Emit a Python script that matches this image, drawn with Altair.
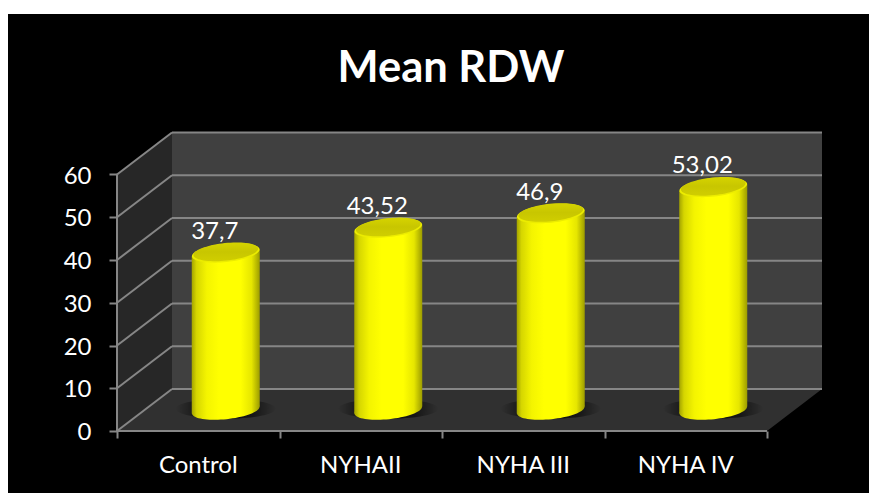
import math
import altair as alt
import pandas as pd

categories = ["Control", "NYHAII", "NYHA III", "NYHA IV"]
values = [37.7, 43.52, 46.9, 53.02]
value_labels = ["37,7", "43,52", "46,9", "53,02"]
levels = [0, 10, 20, 30, 40, 50, 60]
slots = [0, 1, 2, 3, 4]

W, H = 861, 479
PX_X, PX_Y = 162.5, 256.5 / 60      # pixels per x slot, per y unit
X0, Y0 = 109, 417                    # view position of the axes' origin
DX, DY = 55 / PX_X, 42 / PX_Y        # depth of the box
HALF = 34 / PX_X                     # cylinder half width
TILT = 3.5 / PX_Y                    # rim slope
BASE = 21 / PX_Y                     # cylinder foot above the front edge
TOP_SHIFT = 17 / PX_Y                # cylinder top above the value
LIFT = DX / 2
GRID = "#868686"

axis_font = dict(labelFont="Lato", labelFontSize=24, labelColor="white", tickColor=GRID,
                 tickWidth=2, domain=False, grid=False, title=None)
xaxis = alt.Axis(values=slots, orient="bottom", labels=False, tickSize=7, offset=Y0 - H, **axis_font)
yaxis = alt.Axis(values=levels, orient="left", tickSize=8, labelPadding=18, labelOffset=1.5, offset=-X0, **axis_font)

xs = alt.Scale(domain=[-X0 / PX_X, (W - X0) / PX_X], range=[0, W], nice=False, zero=False)
ys = alt.Scale(domain=[(Y0 - H) / PX_Y, Y0 / PX_Y], range=[H, 0], nice=False, zero=False)
X = lambda f: alt.X(f, type="quantitative", scale=xs, axis=xaxis)
Y = lambda f: alt.Y(f, type="quantitative", scale=ys, axis=yaxis)
X2 = lambda f: alt.X2(f)
Y2 = lambda f: alt.Y2(f)

def ellipse(k=0.27, deg=6, n=72):
    a = math.radians(deg)
    pts = []
    for i in range(n):
        t = 2 * math.pi * i / n
        x, y = math.cos(t), k * math.sin(t)
        pts.append((x * math.cos(a) + y * math.sin(a), -x * math.sin(a) + y * math.cos(a)))
    return "M" + "L".join(f"{p:.4f},{q:.4f}" for p, q in pts) + "Z"

def stops(*pairs):
    return [alt.GradientStop(offset=o, color=c) for o, c in pairs]

side_grad = alt.LinearGradient(gradient="linear", x1=0, x2=1, y1=0, y2=0, stops=stops(
    (0, "#a4a400"), (0.07, "#d6d600"), (0.22, "#f4f400"), (0.4, "#ffff00"),
    (0.72, "#ffff00"), (0.88, "#e6e600"), (1, "#9c9c00")))
top_grad = alt.LinearGradient(gradient="linear", x1=0, x2=0, y1=0, y2=1, stops=stops(
    (0, "#d6d400"), (0.5, "#c8c600"), (1, "#d0ce00")))
shadow_grad = alt.RadialGradient(gradient="radial", x1=0.5, y1=0.5, x2=0.5, y2=0.5, r1=0, r2=0.5, stops=stops(
    (0, "#0e0e0e"), (0.55, "#161616"), (1, "#303030")))

# walls
side = pd.DataFrame({"x": [0, DX], "y": [0, DY], "y2": [60, 60 + DY]})
floor = pd.DataFrame({"x": [0, DX, 4, 4 + DX], "y": [0, DY, DY, DY], "y2": [0, 0, 0, DY]})
back = pd.DataFrame({"x": [DX, 4 + DX], "y": [DY, DY], "y2": [60 + DY, 60 + DY]})

def wall(df, color):
    return alt.Chart(df).mark_area(color=color, opacity=1, line=False).encode(
        x=X("x"), y=Y("y"), y2=Y2("y2"))

# grid lines
grid = pd.DataFrame({"v": levels})
grid["a"] = 0.0
grid["b"] = DX
grid["c"] = 4 + DX
grid["w"] = grid["v"] + DY
back_rules = alt.Chart(grid).mark_rule(color=GRID, strokeWidth=2).encode(
    x=X("b"), x2=X2("c"), y=Y("w"))
side_rules = alt.Chart(grid).mark_rule(color=GRID, strokeWidth=2).encode(
    x=X("a"), x2=X2("b"), y=Y("v"), y2=Y2("w"))
front_rule = alt.Chart(pd.DataFrame({"x": [0], "x2": [4], "y": [0]})).mark_rule(
    color=GRID, strokeWidth=2).encode(x=X("x"), x2=X2("x2"), y=Y("y"))
left_rule = alt.Chart(pd.DataFrame({"x": [0], "y": [0], "y2": [60]})).mark_rule(
    color=GRID, strokeWidth=2).encode(x=X("x"), y=Y("y"), y2=Y2("y2"))

# cylinders
cyl = pd.DataFrame({"cat": categories, "v": values, "lab": value_labels})
cyl["c"] = [i + 0.5 + LIFT for i in range(len(categories))]
cyl["top"] = cyl["v"] + TOP_SHIFT
cyl["base"] = BASE
cyl["tx"] = [i + 0.5 + LIFT - 11 / PX_X for i in range(len(categories))]
cyl["shadow_y"] = BASE + 0.3

rows = []
for _, r in cyl.iterrows():
    rows.append({"cat": r["cat"], "x": r["c"] - HALF, "y": r["top"] - TILT, "y2": r["base"] - TILT})
    rows.append({"cat": r["cat"], "x": r["c"] + HALF, "y": r["top"] + TILT, "y2": r["base"] + TILT})
body_df = pd.DataFrame(rows)

shadow = alt.Chart(cyl).mark_point(filled=True, shape=ellipse(0.2, 0), size=100 ** 2, fill=shadow_grad,
                                   opacity=1, strokeWidth=0).encode(x=X("c"), y=Y("shadow_y"))
body = alt.Chart(body_df).mark_area(fill=side_grad, opacity=1, line=False).encode(
    x=X("x"), y=Y("y"), y2=Y2("y2"), detail="cat:N")
foot = alt.Chart(cyl).mark_point(filled=True, shape=ellipse(), size=68 ** 2, fill=side_grad,
                                 opacity=1, strokeWidth=0).encode(x=X("c"), y=Y("base"))
rim = alt.Chart(cyl).mark_point(filled=True, shape=ellipse(), size=68 ** 2, fill="#ecec00",
                                opacity=1, strokeWidth=0).encode(x=X("c"), y=Y("top"))
cap = alt.Chart(cyl).mark_point(filled=True, shape=ellipse(), size=65 ** 2, fill=top_grad,
                                opacity=1, strokeWidth=0, yOffset=-1).encode(x=X("c"), y=Y("top"))
value_text = alt.Chart(cyl).mark_text(font="Lato", fontSize=24, color="white", dy=-21).encode(
    x=X("tx"), y=Y("top"), text="lab:N")

cat_df = pd.DataFrame({"cat": categories, "x": [i + 0.5 for i in range(len(categories))], "y": -35 / PX_Y})
cat_text = alt.Chart(cat_df).mark_text(font="Lato", fontSize=24, color="white").encode(
    x=X("x"), y=Y("y"), text="cat:N")

chart = alt.layer(
    wall(side, "#272727"), wall(back, "#404040"), wall(floor, "#303030"),
    back_rules, side_rules, front_rule, left_rule,
    shadow, body, foot, rim, cap, value_text, cat_text,
).properties(
    width=W, height=H,
    title=alt.TitleParams("Mean RDW", font="Lato", fontSize=43.5, fontWeight="bold", color="white",
                          anchor="middle", dx=12.5, offset=-77),
    background="white",
    padding={"left": 0, "top": 6, "right": 0, "bottom": 0},
    autosize=alt.AutoSizeParams(type="none"),
).configure_view(fill="black", stroke=None)

chart.save("out.html", embed_options={"renderer": "svg", "actions": False})
